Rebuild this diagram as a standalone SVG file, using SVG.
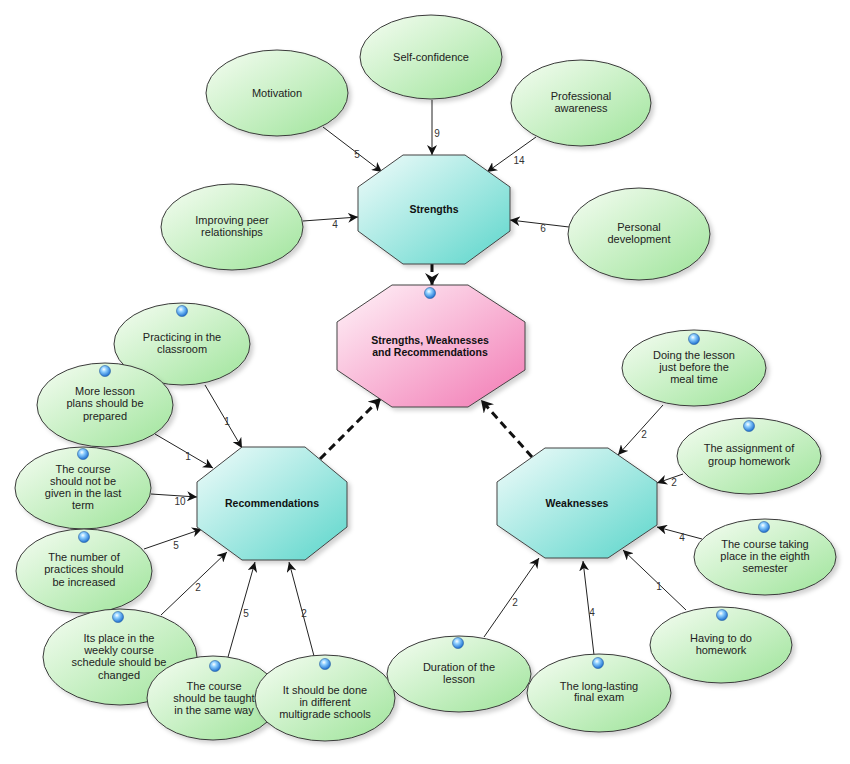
<svg xmlns="http://www.w3.org/2000/svg" width="850" height="764" viewBox="0 0 850 764">
<defs>
<linearGradient id="gGreen" x1="0" y1="0" x2="1" y2="1">
<stop offset="0" stop-color="#f6fdf3"/>
<stop offset="1" stop-color="#9ee49a"/>
</linearGradient>
<linearGradient id="gTeal" x1="0" y1="0" x2="1" y2="1">
<stop offset="0" stop-color="#f2fcfb"/>
<stop offset="1" stop-color="#5cd6cb"/>
</linearGradient>
<linearGradient id="gPink" x1="0" y1="0" x2="1" y2="1">
<stop offset="0" stop-color="#fff4f9"/>
<stop offset="1" stop-color="#f27ab4"/>
</linearGradient>
<radialGradient id="gBlue" cx="0.4" cy="0.35" r="0.65">
<stop offset="0" stop-color="#ffffff"/>
<stop offset="0.35" stop-color="#8fd0ff"/>
<stop offset="1" stop-color="#1d6fd0"/>
</radialGradient>
<filter id="sh" x="-20%" y="-20%" width="150%" height="150%">
<feDropShadow dx="3" dy="3" stdDeviation="2" flood-color="#000" flood-opacity="0.18"/>
</filter>
<marker id="ar" markerUnits="userSpaceOnUse" markerWidth="12" markerHeight="10" refX="10" refY="5" orient="auto">
<path d="M0,0 L10,5 L0,10 L3,5 Z" fill="#111"/>
</marker>
<marker id="arB" markerUnits="userSpaceOnUse" markerWidth="14" markerHeight="14" refX="12" refY="7" orient="auto">
<path d="M0,0 L12,7 L0,14 L4,7 Z" fill="#111"/>
</marker>
</defs>
<style>
.ell{fill:url(#gGreen);stroke:#3a3a3a;stroke-width:1;filter:url(#sh)}
.oct{stroke:#444;stroke-width:1;filter:url(#sh)}
.t{font-family:"Liberation Sans",Arial,sans-serif;font-size:11px;fill:#222;text-anchor:middle}
.tb{font-family:"Liberation Sans",Arial,sans-serif;font-size:10.5px;font-weight:bold;fill:#111;text-anchor:middle}
.n{font-family:"Liberation Sans",Arial,sans-serif;font-size:10px;fill:#333;text-anchor:middle}
.c{stroke:#222;stroke-width:1;fill:none;marker-end:url(#ar)}
.d{stroke:#111;stroke-width:3;stroke-dasharray:8,5;fill:none;marker-end:url(#arB)}
.dot{fill:url(#gBlue);stroke:#2a5f9e;stroke-width:0.6}
</style>

<g id="connectors">
<line class="c" x1="323" y1="127" x2="382" y2="172"/>
<line class="c" x1="432" y1="100" x2="432" y2="155"/>
<line class="c" x1="536" y1="137" x2="487" y2="172"/>
<line class="c" x1="303" y1="221" x2="358" y2="217"/>
<line class="c" x1="569" y1="227" x2="510" y2="220"/>
<line class="d" x1="432" y1="264" x2="432" y2="285"/>
<line class="d" x1="320" y1="459" x2="381" y2="398"/>
<line class="d" x1="532" y1="457" x2="481" y2="400"/>
<line class="c" x1="205" y1="385" x2="242" y2="448"/>
<line class="c" x1="155" y1="434" x2="213" y2="468"/>
<line class="c" x1="151" y1="494" x2="197" y2="497"/>
<line class="c" x1="144" y1="549" x2="202" y2="529"/>
<line class="c" x1="161" y1="615" x2="227" y2="552"/>
<line class="c" x1="228" y1="657" x2="255" y2="562"/>
<line class="c" x1="314" y1="656" x2="289" y2="562"/>
<line class="c" x1="663" y1="405" x2="618" y2="455"/>
<line class="c" x1="683" y1="474" x2="657" y2="483"/>
<line class="c" x1="702" y1="539" x2="657" y2="527"/>
<line class="c" x1="686" y1="610" x2="623" y2="550"/>
<line class="c" x1="484" y1="637" x2="539" y2="558"/>
<line class="c" x1="594" y1="655" x2="583" y2="561"/>
<text class="n" x="357" y="158">5</text>
<text class="n" x="437" y="137">9</text>
<text class="n" x="519" y="164">14</text>
<text class="n" x="335" y="228">4</text>
<text class="n" x="543" y="232">6</text>
<text class="n" x="227" y="425">1</text>
<text class="n" x="188" y="460">1</text>
<text class="n" x="180" y="505">10</text>
<text class="n" x="176" y="549">5</text>
<text class="n" x="198" y="591">2</text>
<text class="n" x="246" y="617">5</text>
<text class="n" x="304" y="617">2</text>
<text class="n" x="644" y="438">2</text>
<text class="n" x="674" y="486">2</text>
<text class="n" x="682" y="541">4</text>
<text class="n" x="659" y="590">1</text>
<text class="n" x="515" y="606">2</text>
<text class="n" x="592" y="616">4</text>
</g>

<g id="strengths">
<polygon class="oct" fill="url(#gTeal)" points="403,155 465,155 510,187 510,231 465,264 403,264 358,231 358,187"/>
<text class="tb" x="434" y="213">Strengths</text>
</g>
<g id="central">
<polygon class="oct" fill="url(#gPink)" points="392,285 468,285 525,322 525,370 468,407 392,407 337,370 337,322"/>
<circle class="dot" cx="430" cy="293" r="5.5"/>
<text class="tb" x="430" y="344">Strengths, Weaknesses</text>
<text class="tb" x="430" y="356">and Recommendations</text>
</g>
<g id="recommendations">
<polygon class="oct" fill="url(#gTeal)" points="242,447 305,447 347,482 347,527 305,560 242,560 197,527 197,482"/>
<text class="tb" x="272" y="507">Recommendations</text>
</g>
<g id="weaknesses">
<polygon class="oct" fill="url(#gTeal)" points="545,448 608,448 657,482 657,525 608,558 545,558 497,525 497,482"/>
<text class="tb" x="577" y="507">Weaknesses</text>
</g>

<g id="motivation">
<ellipse class="ell" cx="277" cy="93" rx="71" ry="43"/>
<text class="t" x="277" y="97">Motivation</text>
</g>
<g id="self-confidence">
<ellipse class="ell" cx="431" cy="57" rx="71" ry="42"/>
<text class="t" x="431" y="61">Self-confidence</text>
</g>
<g id="professional-awareness">
<ellipse class="ell" cx="581" cy="103" rx="70" ry="43"/>
<text class="t" x="581" y="100">Professional</text>
<text class="t" x="581" y="112">awareness</text>
</g>
<g id="improving-peer">
<ellipse class="ell" cx="232" cy="227" rx="71" ry="43"/>
<text class="t" x="232" y="224">Improving peer</text>
<text class="t" x="232" y="236">relationships</text>
</g>
<g id="personal-development">
<ellipse class="ell" cx="639" cy="234" rx="71" ry="46"/>
<text class="t" x="639" y="231">Personal</text>
<text class="t" x="639" y="243">development</text>
</g>

<g id="practicing">
<ellipse class="ell" cx="182" cy="344" rx="68" ry="41"/>
<circle class="dot" cx="182" cy="311" r="5.5"/>
<text class="t" x="182" y="341">Practicing in the</text>
<text class="t" x="182" y="353">classroom</text>
</g>
<g id="more-lesson">
<ellipse class="ell" cx="105" cy="405" rx="68" ry="42"/>
<circle class="dot" cx="105" cy="371" r="5.5"/>
<text class="t" x="105" y="395">More lesson</text>
<text class="t" x="105" y="407">plans should be</text>
<text class="t" x="105" y="420">prepared</text>
</g>
<g id="not-last-term">
<ellipse class="ell" cx="83" cy="488" rx="68" ry="41"/>
<circle class="dot" cx="83" cy="454" r="5.5"/>
<text class="t" x="83" y="473">The course</text>
<text class="t" x="83" y="485">should not be</text>
<text class="t" x="83" y="497">given in the last</text>
<text class="t" x="83" y="509">term</text>
</g>
<g id="number-practices">
<ellipse class="ell" cx="84" cy="571" rx="68" ry="42"/>
<circle class="dot" cx="84" cy="537" r="5.5"/>
<text class="t" x="84" y="561">The number of</text>
<text class="t" x="84" y="573">practices should</text>
<text class="t" x="84" y="586">be increased</text>
</g>
<g id="its-place">
<ellipse class="ell" cx="120" cy="657" rx="77" ry="48"/>
<circle class="dot" cx="118" cy="617" r="5.5"/>
<text class="t" x="119" y="642">Its place in the</text>
<text class="t" x="119" y="654">weekly course</text>
<text class="t" x="119" y="666">schedule should be</text>
<text class="t" x="119" y="679">changed</text>
</g>
<g id="same-way">
<ellipse class="ell" cx="213" cy="698" rx="66" ry="42"/>
<circle class="dot" cx="215" cy="666" r="5.5"/>
<text class="t" x="214" y="690">The course</text>
<text class="t" x="214" y="702">should be taught</text>
<text class="t" x="214" y="714">in the same way</text>
</g>
<g id="multigrade">
<ellipse class="ell" cx="325" cy="698" rx="70" ry="43"/>
<circle class="dot" cx="325" cy="664" r="5.5"/>
<text class="t" x="325" y="694">It should be done</text>
<text class="t" x="325" y="706">in different</text>
<text class="t" x="325" y="718">multigrade schools</text>
</g>

<g id="doing-lesson">
<ellipse class="ell" cx="694" cy="368" rx="72" ry="38"/>
<circle class="dot" cx="694" cy="339" r="5.5"/>
<text class="t" x="694" y="359">Doing the lesson</text>
<text class="t" x="694" y="371">just before the</text>
<text class="t" x="694" y="383">meal time</text>
</g>
<g id="group-homework">
<ellipse class="ell" cx="749" cy="456" rx="72" ry="38"/>
<circle class="dot" cx="749" cy="426" r="5.5"/>
<text class="t" x="749" y="452">The assignment of</text>
<text class="t" x="749" y="465">group homework</text>
</g>
<g id="eighth-semester">
<ellipse class="ell" cx="765" cy="557" rx="71" ry="38"/>
<circle class="dot" cx="764" cy="527" r="5.5"/>
<text class="t" x="765" y="548">The course taking</text>
<text class="t" x="765" y="560">place in the eighth</text>
<text class="t" x="765" y="572">semester</text>
</g>
<g id="having-homework">
<ellipse class="ell" cx="721" cy="645" rx="71" ry="38"/>
<circle class="dot" cx="722" cy="615" r="5.5"/>
<text class="t" x="721" y="642">Having to do</text>
<text class="t" x="721" y="654">homework</text>
</g>
<g id="duration">
<ellipse class="ell" cx="459" cy="674" rx="72" ry="38"/>
<circle class="dot" cx="458" cy="643" r="5.5"/>
<text class="t" x="459" y="671">Duration of the</text>
<text class="t" x="459" y="683">lesson</text>
</g>
<g id="final-exam">
<ellipse class="ell" cx="599" cy="693" rx="72" ry="39"/>
<circle class="dot" cx="598" cy="663" r="5.5"/>
<text class="t" x="599" y="690">The long-lasting</text>
<text class="t" x="599" y="701">final exam</text>
</g>
</svg>
